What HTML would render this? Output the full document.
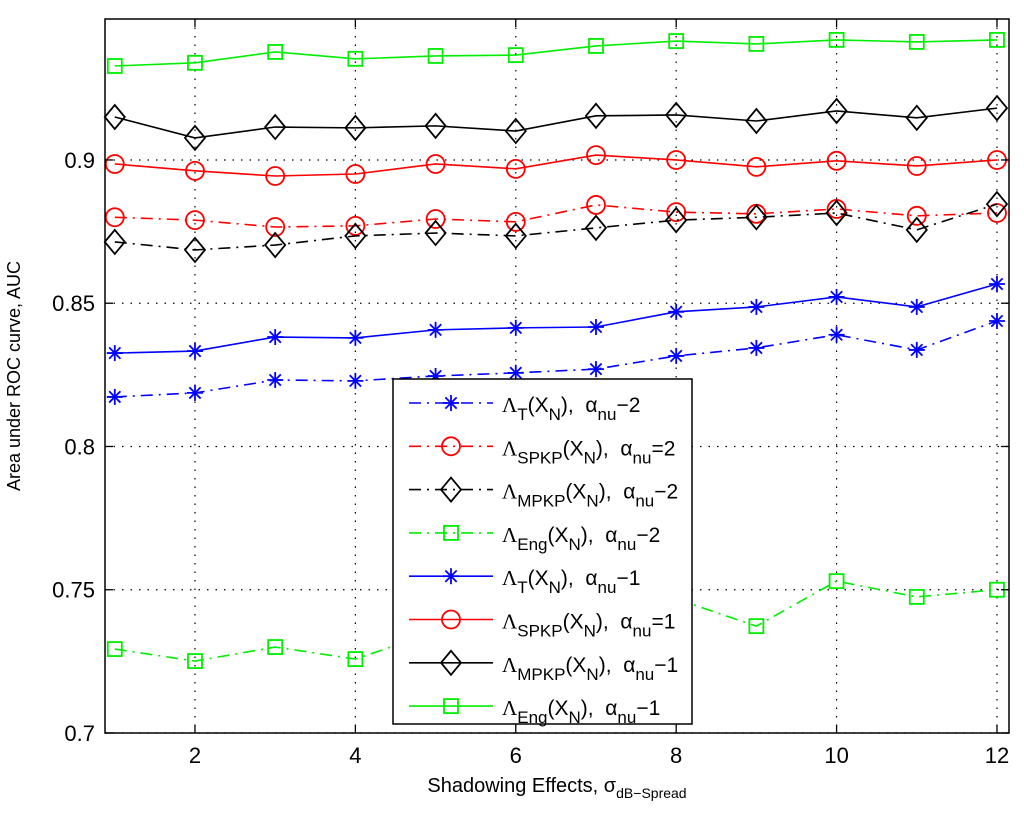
<!DOCTYPE html>
<html><head><meta charset="utf-8"><style>
html,body{margin:0;padding:0;background:#fff;}
svg{display:block;font-family:"Liberation Sans",sans-serif;}
</style></head><body>
<svg id="chart" width="1024" height="825" viewBox="0 0 1024 825" xmlns="http://www.w3.org/2000/svg">
<rect x="0" y="0" width="1024" height="825" fill="#fff"/>
<g id="grid"></g>
<g id="series"></g>
<rect x="105" y="19" width="904" height="714" fill="none" stroke="#000" stroke-width="1.5"/>
<g id="ticks"></g>
<text x="557" y="792" font-size="20" text-anchor="middle">Shadowing Effects, σ<tspan font-size="14" dy="6">dB−Spread</tspan></text>
<text transform="translate(20,376) rotate(-90)" font-size="18" text-anchor="middle">Area under ROC curve, AUC</text>
<g id="legend"></g>
</svg>
<script>
const xCats=[1,2,3,4,5,6,7,8,9,10,11,12];
const xTicks=[2,4,6,8,10,12];
const yTicks=[0.7,0.75,0.8,0.85,0.9];
const yTickLabels=["0.7","0.75","0.8","0.85","0.9"];
const tT2=[0.8173,0.8187,0.8232,0.8229,0.8246,0.8257,0.827,0.8316,0.8344,0.839,0.8337,0.8438];
const spkp2=[0.880,0.879,0.8766,0.877,0.8794,0.8784,0.8843,0.8818,0.8812,0.8829,0.8805,0.8815];
const mpkp2=[0.8714,0.8686,0.8703,0.8735,0.8745,0.8735,0.8763,0.879,0.880,0.8815,0.8756,0.8846];
const eng2=[0.7293,0.7251,0.730,0.7258,0.7353,0.740,0.744,0.7468,0.7373,0.753,0.7475,0.750];
const tT1=[0.8326,0.8333,0.8382,0.8379,0.8407,0.8414,0.8417,0.847,0.8487,0.8522,0.8487,0.8567];
const spkp1=[0.8986,0.8962,0.8944,0.8951,0.8986,0.8969,0.9017,0.900,0.8976,0.8997,0.8979,0.900];
const mpkp1=[0.915,0.9077,0.9115,0.9112,0.9119,0.9101,0.9154,0.9157,0.9136,0.9171,0.9147,0.9181];
const eng1=[0.9328,0.9339,0.9377,0.9353,0.9363,0.9366,0.9398,0.9415,0.9405,0.9419,0.9412,0.9419];
const legendLabels=[["T","−2"],["SPKP","=2"],["MPKP","−2"],["Eng","−2"],["T","−1"],["SPKP","=1"],["MPKP","−1"],["Eng","−1"]];

const NS="http://www.w3.org/2000/svg";
const L=105,R=1009,T=19,B=733,XMIN=0.878,XMAX=12.15,YMIN=0.7,YMAX=0.9492;
const sx=v=>L+(v-XMIN)/(XMAX-XMIN)*(R-L);
const sy=v=>B-(v-YMIN)/(YMAX-YMIN)*(B-T);
function mk(tag,attrs,parent){const e=document.createElementNS(NS,tag);for(const k in attrs)e.setAttribute(k,attrs[k]);parent.appendChild(e);return e;}
const grid=document.getElementById('grid'),ticks=document.getElementById('ticks'),ser=document.getElementById('series'),leg=document.getElementById('legend');
xTicks.forEach(t=>{const x=sx(t);
 let g=mk('line',{x1:x,x2:x,y1:T,y2:B,stroke:'#000','stroke-width':1.2,'stroke-dasharray':'1.5 7'},grid);
 
 mk('line',{x1:x,x2:x,y1:B,y2:B-8,stroke:'#000','stroke-width':1.3},ticks);
 mk('line',{x1:x,x2:x,y1:T,y2:T+8,stroke:'#000','stroke-width':1.3},ticks);
 let tx=mk('text',{x:x,y:B+30,'font-size':22,'text-anchor':'middle'},ticks);tx.textContent=t;
 });
yTicks.forEach((t,i)=>{const y=sy(t);
 let g=mk('line',{x1:L,x2:R,y1:y,y2:y,stroke:'#000','stroke-width':1.2,'stroke-dasharray':'1.5 7'},grid);
 
 mk('line',{x1:L,x2:L+8,y1:y,y2:y,stroke:'#000','stroke-width':1.3},ticks);
 mk('line',{x1:R,x2:R-8,y1:y,y2:y,stroke:'#000','stroke-width':1.3},ticks);
 let tx=mk('text',{x:L-10,y:y+8,'font-size':22,'text-anchor':'end'},ticks);tx.textContent=yTickLabels[i];
 });
function marker(type,x,y,color,parent){
 if(type==='star'){const r=8;for(let a=0;a<180;a+=45){const rad=a*Math.PI/180;mk('line',{x1:x-r*Math.cos(rad),y1:y-r*Math.sin(rad),x2:x+r*Math.cos(rad),y2:y+r*Math.sin(rad),stroke:color,'stroke-width':1.8},parent);}}
 else if(type==='circle')mk('circle',{cx:x,cy:y,r:9,fill:'none',stroke:color,'stroke-width':1.8},parent);
 else if(type==='diamond')mk('polygon',{points:`${x},${y-12} ${x+10},${y} ${x},${y+12} ${x-10},${y}`,fill:'none',stroke:color,'stroke-width':1.8},parent);
 else mk('rect',{x:x-7,y:y-7,width:14,height:14,fill:'none',stroke:color,'stroke-width':1.8},parent);
}
const DD='12 6 2 6';
const series=[[tT2,'#0000ff','star',DD,'blue-dashdot-t-alpha2'],[spkp2,'#ff0000','circle',DD,'red-dashdot-spkp-alpha2'],[mpkp2,'#000','diamond',DD,'black-dashdot-mpkp-alpha2'],[eng2,'#00ee00','square',DD,'green-dashdot-eng-alpha2'],
[tT1,'#0000ff','star','','blue-solid-t-alpha1'],[spkp1,'#ff0000','circle','','red-solid-spkp-alpha1'],[mpkp1,'#000','diamond','','black-solid-mpkp-alpha1'],[eng1,'#00ee00','square','','green-solid-eng-alpha1']];
series.forEach(s=>{const g=mk('g',{},ser);
 
 const pts=s[0].map((v,i)=>sx(xCats[i])+','+sy(v)).join(' ');
 const a={points:pts,fill:'none',stroke:s[1],'stroke-width':1.6};if(s[3])a['stroke-dasharray']=s[3];
 mk('polyline',a,g);
 s[0].forEach((v,i)=>marker(s[2],sx(xCats[i]),sy(v),s[1],g));});
const lb=mk('rect',{x:393,y:379,width:299,height:345,fill:'#fff',stroke:'#000','stroke-width':1.5},leg);

series.forEach((s,i)=>{const y=403+i*43.3;const g=mk('g',{},leg);
 
 const a={x1:409,x2:493,y1:y,y2:y,stroke:s[1],'stroke-width':1.6};if(s[3])a['stroke-dasharray']=s[3];
 mk('line',a,g);marker(s[2],451,y,s[1],g);
 const t=mk('text',{x:502,y:y+9,'font-size':21},g);
 t.innerHTML=`<tspan font-family="Liberation Serif, serif">Λ</tspan><tspan font-size="17" dy="8">${legendLabels[i][0]}</tspan><tspan dy="-8">(X</tspan><tspan font-size="17" dy="8">N</tspan><tspan dy="-8">),&#160;&#160;α</tspan><tspan font-size="17" dy="8">nu</tspan><tspan dy="-8">${legendLabels[i][1]}</tspan>`;});
</script>
</body></html>
